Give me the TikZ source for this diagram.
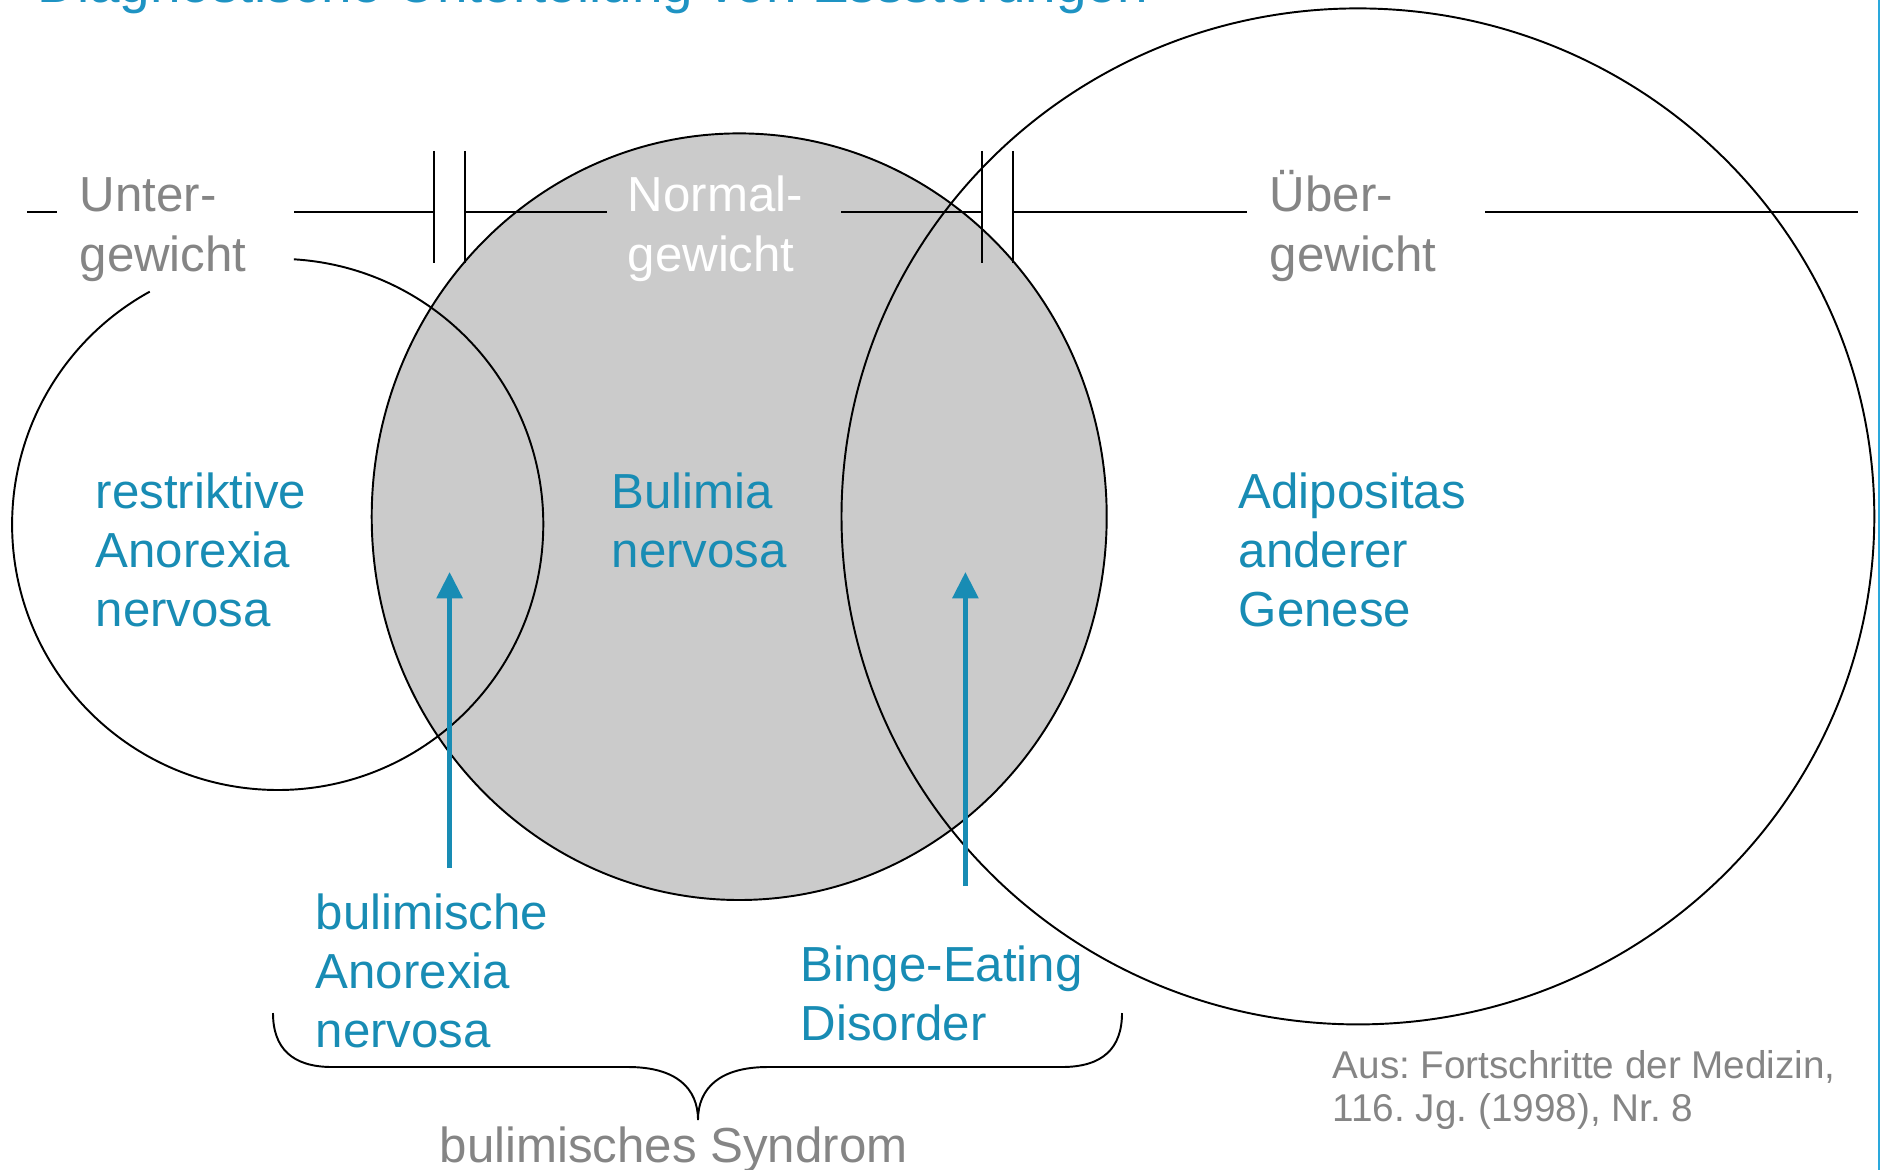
\documentclass[tikz,border=0pt]{standalone}
\usepackage{fontspec}
\setmainfont{Liberation Sans}
\usetikzlibrary{arrows.meta}
\definecolor{labelblue}{HTML}{188CB4}
\definecolor{titleblue}{HTML}{1E93C3}
\definecolor{edgeblue}{HTML}{2AA8DC}
\definecolor{textgray}{HTML}{858585}
\definecolor{fillgray}{HTML}{CBCBCB}
\frenchspacing
\begin{document}
\begin{tikzpicture}[x=0.01cm,y=-0.01cm,
  outline/.style={black,line width=0.55pt},
  lab/.style={inner sep=0pt,anchor=base west,font=\fontsize{14}{16.8}\selectfont},
  graylab/.style={lab,text=textgray},
  bluelab/.style={lab,text=labelblue},
  whitelab/.style={lab,text=white},
  notelab/.style={inner sep=0pt,anchor=base west,text=textgray,font=\fontsize{11}{12.4}\selectfont},
  bluearrow/.style={labelblue,line width=1.4pt,-{Triangle[length=7.5pt,width=7.2pt]}}]
\useasboundingbox (0,0) rectangle (1885,1170);
\clip (0,0) rectangle (1885,1170);

% title (cut at top, as in the reference)
\node[inner sep=0pt,anchor=base west,text=titleblue,font=\fontsize{15.6}{18}\selectfont] (title) at (37,3) {Diagnostische Unterteilung von Essstörungen};

% circles
\fill[fillgray] (739.2,516.7) ellipse [x radius=367.5, y radius=383.3];
\draw[outline] (739.2,516.7) ellipse [x radius=367.5, y radius=383.3];
\draw[outline] ([shift={(-86.5:265.6)}]277.7,524.4) arc[start angle=-86.5, end angle=241.2, radius=265.6];
\draw[outline] (1357.9,516.4) ellipse [x radius=516.4, y radius=508];

% weight scale line
\draw[outline] (27,212) -- (57,212);
\draw[outline] (294,212) -- (434,212);
\draw[outline] (434,151) -- (434,263);
\draw[outline] (465,151) -- (465,263);
\draw[outline] (465,212) -- (607,212);
\draw[outline] (841,212) -- (982,212);
\draw[outline] (982,151) -- (982,263);
\draw[outline] (1013,151) -- (1013,263);
\draw[outline] (1013,212) -- (1247,212);
\draw[outline] (1485,212) -- (1858,212);

% scale labels
\node[graylab] (unter) at (79,212) {\begin{tabular}[t]{@{}l@{}}Unter-\\gewicht\end{tabular}};
\node[whitelab] (normal) at (627,212) {\begin{tabular}[t]{@{}l@{}}Normal-\\gewicht\end{tabular}};
\node[graylab] (ueber) at (1269,212) {\begin{tabular}[t]{@{}l@{}}Über-\\gewicht\end{tabular}};

% region labels
\node[bluelab] (restr) at (95,508) {\begin{tabular}[t]{@{}l@{}}restriktive\\Anorexia\\nervosa\end{tabular}};
\node[bluelab] (bulimia) at (611,508) {\begin{tabular}[t]{@{}l@{}}Bulimia\\nervosa\end{tabular}};
\node[bluelab] (adipos) at (1238,508) {\begin{tabular}[t]{@{}l@{}}Adipositas\\anderer\\Genese\end{tabular}};
\node[bluelab] (bulan) at (315,929) {\begin{tabular}[t]{@{}l@{}}bulimische\\Anorexia\\nervosa\end{tabular}};
\node[bluelab] (binge) at (800,981) {\begin{tabular}[t]{@{}l@{}}Binge-Eating\\Disorder\end{tabular}};

% arrows
\coordinate (a1s) at (449.6,868);
\coordinate (a1e) at (449.6,572);
\coordinate (a2s) at (965.4,886);
\coordinate (a2e) at (965.4,572);
\draw[bluearrow] (a1s) -- (a1e);
\draw[bluearrow] (a2s) -- (a2e);

% brace
\draw[outline] (273,1013) .. controls (273,1048) and (292,1067) .. (332,1067) -- (628,1067)
  .. controls (676,1067) and (698,1088) .. (698,1120)
  .. controls (698,1088) and (720,1067) .. (768,1067) -- (1062,1067)
  .. controls (1103,1067) and (1122,1048) .. (1122,1013);
\node[graylab] (syndrom) at (439,1162) {bulimisches Syndrom};

% source note
\node[notelab] (source) at (1332,1078) {\begin{tabular}[t]{@{}l@{}}Aus: Fortschritte der Medizin,\\116. Jg. (1998), Nr. 8\end{tabular}};

% right edge line
\draw[edgeblue,line width=0.8pt] (1879,0) -- (1879,1170);
\end{tikzpicture}
\end{document}
